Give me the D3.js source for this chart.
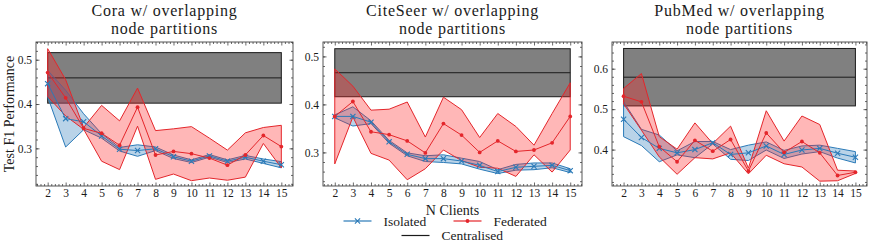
<!DOCTYPE html>
<html>
<head>
<meta charset="utf-8">
<script src="https://cdn.jsdelivr.net/npm/d3@7"></script>
<style>
body{margin:0;background:#fff;}
svg text{font-family:"Liberation Serif","Times New Roman",serif;fill:#1a1a1a;}
</style>
</head>
<body>
<svg id="chart" width="872" height="250"></svg>
<script>
// ---- data (mean and std per number of clients) ----
var clients=[2,3,4,5,6,7,8,9,10,11,12,13,14,15];

var titles=["Cora w/ overlapping","CiteSeer w/ overlapping","PubMed w/ overlapping"];
var subTitle="node partitions";

var coraIsoMean=[0.446,0.367,0.360,0.328,0.298,0.295,0.299,0.281,0.271,0.283,0.271,0.280,0.271,0.263];
var coraIsoStd =[0.030,0.064,0.018,0.005,0.004,0.013,0.004,0.004,0.003,0.003,0.003,0.004,0.005,0.007];
var coraFedMean=[0.471,0.414,0.345,0.334,0.307,0.393,0.285,0.293,0.288,0.278,0.262,0.285,0.329,0.304];
var coraFedStd =[0.054,0.041,0.002,0.063,0.055,0.043,0.055,0.051,0.061,0.045,0.034,0.050,0.018,0.048];
var coraCentral=[0.459,0.057];

var citeIsoMean=[0.375,0.375,0.363,0.322,0.296,0.287,0.287,0.282,0.273,0.260,0.269,0.271,0.273,0.262];
var citeIsoStd =[0.003,0.020,0.003,0.003,0.003,0.006,0.008,0.006,0.008,0.004,0.006,0.007,0.005,0.004];
var citeFedMean=[0.375,0.406,0.343,0.337,0.324,0.299,0.360,0.336,0.300,0.324,0.302,0.305,0.320,0.375];
var citeFedStd =[0.099,0.032,0.045,0.053,0.081,0.033,0.055,0.053,0.031,0.057,0.052,0.010,0.061,0.070];
var citeCentral=[0.466,0.050];

var pubIsoMean=[0.475,0.430,0.403,0.392,0.400,0.417,0.388,0.392,0.409,0.388,0.399,0.403,0.391,0.381];
var pubIsoStd =[0.043,0.020,0.033,0.005,0.020,0.003,0.012,0.019,0.010,0.010,0.010,0.008,0.012,0.014];
var pubFedMean=[0.532,0.518,0.407,0.370,0.423,0.396,0.425,0.347,0.441,0.393,0.420,0.392,0.336,0.344];
var pubFedStd =[0.019,0.070,0.025,0.031,0.043,0.019,0.033,0.007,0.055,0.028,0.063,0.070,0.013,0.003];
var pubCentral=[0.579,0.071];

var yTicks=[[0.3,0.4,0.5],[0.3,0.4,0.5],[0.4,0.5,0.6]];
var yDomains=[[0.215,0.540],[0.230,0.530],[0.310,0.666]];

var legendNames=["Isolated","Federated","Centralised"];
var xLabel="N Clients";
var yLabel="Test F1 Performance";

// ---- styling ----
var blue="#2a7ab8", red="#e4262b";
var panelBoxes=[[36,293],[323,582],[612,867]];
var plotTop=42, plotBottom=186;

var svg=d3.select("#chart");

var panels=[
    {iso:[coraIsoMean,coraIsoStd],fed:[coraFedMean,coraFedStd],central:coraCentral},
    {iso:[citeIsoMean,citeIsoStd],fed:[citeFedMean,citeFedStd],central:citeCentral},
    {iso:[pubIsoMean,pubIsoStd],fed:[pubFedMean,pubFedStd],central:pubCentral}
];

function toRows(ms){
    return clients.map(function(c,i){return {x:c,m:ms[0][i],s:ms[1][i]};});
}

function drawPanel(idx){
    var p=panels[idx];
    var x0=panelBoxes[idx][0], x1=panelBoxes[idx][1];
    var x=d3.scaleLinear().domain([1.35,15.65]).range([x0,x1]);
    var y=d3.scaleLinear().domain(yDomains[idx]).range([plotBottom,plotTop]);
    var g=svg.append("g");

    var clipId="clip"+idx;
    svg.append("clipPath").attr("id",clipId).append("rect")
        .attr("x",x0).attr("y",plotTop).attr("width",x1-x0).attr("height",plotBottom-plotTop);
    var plot=g.append("g").attr("clip-path","url(#"+clipId+")");

    // centralised band
    var c=p.central;
    plot.append("rect")
        .attr("x",x(clients[0])).attr("width",x(clients[clients.length-1])-x(clients[0]))
        .attr("y",y(c[0]+c[1])).attr("height",y(c[0]-c[1])-y(c[0]+c[1]))
        .attr("fill","#808080").attr("stroke","#1a1a1a").attr("stroke-width",1);
    plot.append("line")
        .attr("x1",x(clients[0])).attr("x2",x(clients[clients.length-1]))
        .attr("y1",y(c[0])).attr("y2",y(c[0]))
        .attr("stroke","#1a1a1a").attr("stroke-width",1);

    var iso=toRows(p.iso), fed=toRows(p.fed);
    var area=d3.area().x(function(d){return x(d.x);})
        .y0(function(d){return y(d.m-d.s);}).y1(function(d){return y(d.m+d.s);});
    var line=d3.line().x(function(d){return x(d.x);}).y(function(d){return y(d.m);});

    // std bands
    plot.append("path").datum(iso).attr("d",area)
        .attr("fill",blue).attr("fill-opacity",0.33)
        .attr("stroke",blue).attr("stroke-width",1);
    plot.append("path").datum(fed).attr("d",area)
        .attr("fill","#ff2020").attr("fill-opacity",0.32)
        .attr("stroke",red).attr("stroke-width",1);

    // mean lines
    plot.append("path").datum(iso).attr("d",line)
        .attr("fill","none").attr("stroke",blue).attr("stroke-width",1);
    plot.selectAll(".xm").data(iso).enter().append("path")
        .attr("transform",function(d){return "translate("+x(d.x)+","+y(d.m)+")";})
        .attr("d","M-2.6,-2.6L2.6,2.6M-2.6,2.6L2.6,-2.6")
        .attr("stroke",blue).attr("stroke-width",1.1);
    plot.append("path").datum(fed).attr("d",line)
        .attr("fill","none").attr("stroke",red).attr("stroke-width",1);
    plot.selectAll(".dm").data(fed).enter().append("circle")
        .attr("cx",function(d){return x(d.x);}).attr("cy",function(d){return y(d.m);})
        .attr("r",1.9).attr("fill",red);

    // ticks, inward on all four sides
    var yMinor=d3.range(Math.ceil(yDomains[idx][0]*50),Math.floor(yDomains[idx][1]*50)+1)
        .map(function(i){return i/50;});
    var xMinor=d3.range(Math.ceil(1.35*5),Math.floor(15.65*5)+1)
        .map(function(i){return i/5;}).filter(function(v){return Math.abs(v-Math.round(v))>1e-6;});

    function ax(axis,tr,vals,size,fmt){
        var a=g.append("g").attr("transform",tr)
            .call(axis.tickValues(vals).tickSize(size).tickPadding(4).tickFormat(fmt))
            .attr("font-family",null);
        a.select(".domain").remove();
        a.selectAll("line").attr("stroke","#444").attr("stroke-width",0.8);
        return a;
    }
    var yl=ax(d3.axisLeft(y),"translate("+x0+",0)",yTicks[idx],-3.5,d3.format(".1f"));
    ax(d3.axisLeft(y),"translate("+x0+",0)",yMinor,-2,"");
    ax(d3.axisRight(y),"translate("+x1+",0)",yTicks[idx],-3.5,"");
    ax(d3.axisRight(y),"translate("+x1+",0)",yMinor,-2,"");
    var xl=ax(d3.axisBottom(x),"translate(0,"+plotBottom+")",clients,-3.5,d3.format("d"));
    ax(d3.axisBottom(x),"translate(0,"+plotBottom+")",xMinor,-2,"");
    ax(d3.axisTop(x),"translate(0,"+plotTop+")",clients,-3.5,"");
    ax(d3.axisTop(x),"translate(0,"+plotTop+")",xMinor,-2,"");
    yl.selectAll("text").attr("font-size",11.5).attr("fill","#1a1a1a");
    xl.selectAll("text").attr("font-size",11.5).attr("fill","#1a1a1a")
        .attr("dy",null).attr("y",null).attr("transform","translate(0,10.5)");

    g.append("rect").attr("x",x0).attr("y",plotTop).attr("width",x1-x0).attr("height",plotBottom-plotTop)
        .attr("fill","none").attr("stroke","#444").attr("stroke-width",0.9);

    // two-line title; a bit of letter spacing makes up for the narrower font
    var cx=(x0+x1)/2;
    g.append("text").attr("x",cx).attr("y",16.3).attr("text-anchor","middle")
        .attr("font-size",16).attr("letter-spacing",0.75).text(titles[idx]);
    g.append("text").attr("x",cx).attr("y",34.3).attr("text-anchor","middle")
        .attr("font-size",16).attr("letter-spacing",0.75).text(subTitle);
}

[0,1,2].forEach(drawPanel);

// axis labels
svg.append("text").attr("transform","translate(14,"+((plotTop+plotBottom)/2)+") rotate(-90)")
    .attr("text-anchor","middle").attr("font-size",14).text(yLabel);
var midX=(panelBoxes[1][0]+panelBoxes[1][1])/2;
svg.append("text").attr("x",midX).attr("y",215).attr("text-anchor","middle")
    .attr("font-size",14).text(xLabel);

// legend
var leg=svg.append("g");
function legendItem(lx,ly,name,kind){
    var col=kind==="iso"?blue:(kind==="fed"?red:"#1a1a1a");
    leg.append("line").attr("x1",lx).attr("x2",lx+28).attr("y1",ly).attr("y2",ly)
        .attr("stroke",col).attr("stroke-width",1.2);
    if(kind==="iso"){
        leg.append("path").attr("transform","translate("+(lx+14)+","+ly+")")
            .attr("d","M-2.6,-2.6L2.6,2.6M-2.6,2.6L2.6,-2.6").attr("stroke",col).attr("stroke-width",1.1);
    }else if(kind==="fed"){
        leg.append("circle").attr("cx",lx+14).attr("cy",ly).attr("r",1.9).attr("fill",col);
    }
    leg.append("text").attr("x",lx+40).attr("y",ly+4.5).attr("font-size",13.5).text(name);
}
legendItem(midX-109,221,legendNames[0],"iso");
legendItem(midX+1,221,legendNames[1],"fed");
legendItem(midX-51,235.5,legendNames[2],"cen");
</script>
</body>
</html>
